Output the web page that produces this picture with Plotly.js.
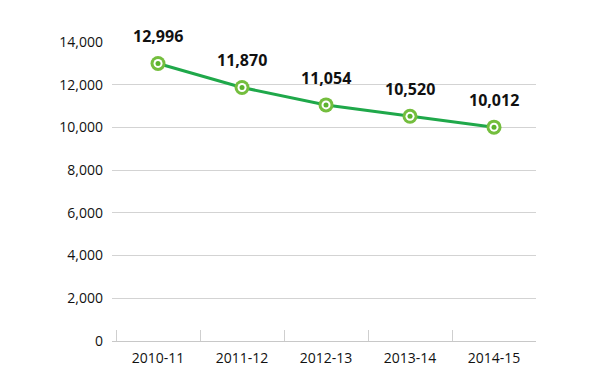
<!DOCTYPE html>
<html>
<head>
<meta charset="utf-8">
<script src="https://cdn.plot.ly/plotly-3.0.1.min.js"></script>
<style>html,body{margin:0;padding:0;background:#fff;}#chart{width:605px;height:389px;}</style>
</head>
<body>
<div id="chart"></div>
<script>
const years = ["2010-11", "2011-12", "2012-13", "2013-14", "2014-15"];
const values = [12996, 11870, 11054, 10520, 10012];
const valueLabels = ["12,996", "11,870", "11,054", "10,520", "10,012"];
const yTicks = [0, 2000, 4000, 6000, 8000, 10000, 12000, 14000];

const lineGreen = "#1fa84a";
const markGreen = "#74be3e";

const traces = [
  {x: years, y: values, type: "scatter", mode: "lines",
   line: {color: lineGreen, width: 3}, hoverinfo: "skip", cliponaxis: false},
  {x: years, y: values, type: "scatter", mode: "markers",
   marker: {size: 15, color: markGreen, line: {width: 0}}, hoverinfo: "skip", cliponaxis: false},
  {x: years, y: values, type: "scatter", mode: "markers",
   marker: {size: 9, color: "#ffffff", line: {width: 0}}, hoverinfo: "skip", cliponaxis: false},
  {x: years, y: values, type: "scatter", mode: "markers",
   marker: {size: 5, color: "#5cb32e", line: {width: 0}}, hoverinfo: "skip", cliponaxis: false}
];

const annotations = years.map((c, i) => ({
  x: c, y: values[i], text: valueLabels[i], showarrow: false,
  yshift: 27, xanchor: "center", yanchor: "middle",
  font: {family: "Open Sans", size: 16, color: "#111111", weight: "bold"}
}));

const layout = {
  width: 605, height: 389,
  margin: {l: 112, r: 69, t: 42, b: 48, pad: 0},
  paper_bgcolor: "#ffffff", plot_bgcolor: "#ffffff",
  showlegend: false,
  font: {family: "Open Sans", size: 14, color: "#111111"},
  xaxis: {
    type: "category", range: [-0.548, 4.5],
    tickson: "boundaries", ticks: "inside", ticklen: 11, tickwidth: 1, tickcolor: "#cfcfcf",
    showline: true, linecolor: "#c8c8c8", linewidth: 1,
    showgrid: false, zeroline: false,
    tickfont: {family: "Open Sans", size: 14, color: "#111111"},
    ticklabelstandoff: 4, fixedrange: true
  },
  yaxis: {
    range: [0, 14000], tickvals: yTicks, tickformat: ",d",
    showgrid: true, gridcolor: "#d3d3d3", gridwidth: 1,
    zeroline: false, showline: false, ticks: "",
    tickfont: {family: "Open Sans", size: 14, color: "#111111"},
    ticklabelstandoff: 8, fixedrange: true
  },
  annotations: annotations
};

Plotly.newPlot("chart", traces, layout, {displayModeBar: false, staticPlot: true});
</script>
</body>
</html>
